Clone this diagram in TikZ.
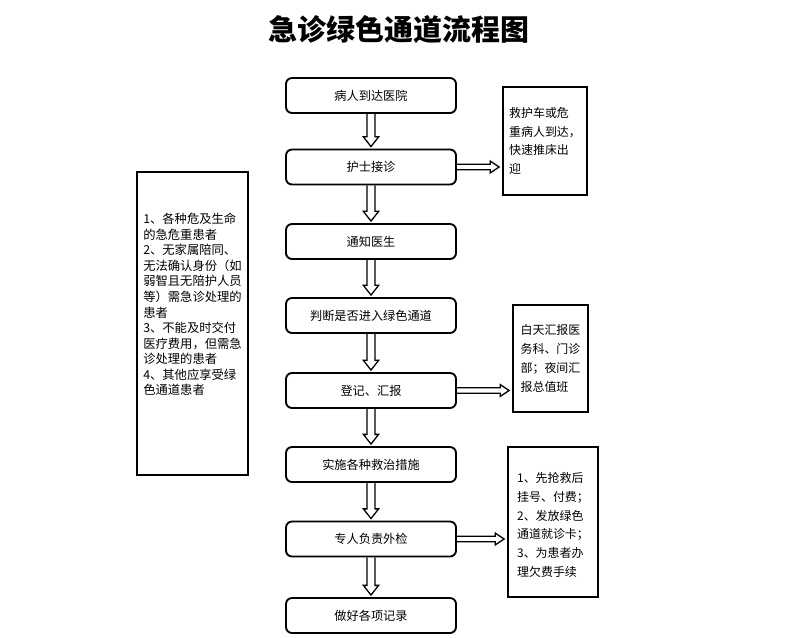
\documentclass[tikz,border=0pt]{standalone}
\usepackage{fontspec}
\setmainfont{Noto Sans CJK SC}
\usetikzlibrary{calc}

\tikzset{
  stepbox/.style={draw,line width=1.6pt,rounded corners=1.8mm,
    minimum width=51mm,minimum height=10.5mm,font=\fontsize{10.4}{12}\selectfont},
  notebox/.style={draw,line width=1.6pt,align=left,
    font=\fontsize{10.2}{16}\selectfont},
  flowarrow/.style={line width=1.1pt,line join=miter},
}

% hollow arrows between boxes
\newcommand{\downflow}[2]{%
  \draw[flowarrow] let \p1=(#1.south), \p2=(#2.north) in
    (\x1-3.4pt,\y1) -- (\x1-3.4pt,\y2+10pt) -- (\x1-6.5pt,\y2+10pt)
    -- (\x1,\y2+1.7pt) -- (\x1+6.5pt,\y2+10pt) -- (\x1+3.4pt,\y2+10pt)
    -- (\x1+3.4pt,\y1);}
\newcommand{\sideflow}[2]{%
  \draw[flowarrow] let \p1=(#1.east), \p2=(#2.west) in
    (\x1,\y1+2.4pt) -- (\x2-10pt,\y1+2.4pt) -- (\x2-10pt,\y1+5pt)
    -- (\x2-2.5pt,\y1) -- (\x2-10pt,\y1-5pt) -- (\x2-10pt,\y1-2.4pt)
    -- (\x1,\y1-2.4pt);}

\begin{document}
\begin{tikzpicture}[x=.3mm,y=-.3mm]
\useasboundingbox (0,0) rectangle (800,637);

\node[font=\fontsize{24.7}{28}\selectfont\bfseries] (title) at (399,30) {急诊绿色通道流程图};

% main steps
\foreach \t/\y [count=\i] in {病人到达医院/95.5,护士接诊/167,通知医生/241.5,
    判断是否进入绿色通道/315.5,登记、汇报/390.5,实施各种救治措施/464.5,
    专人负责外检/539,做好各项记录/615.5} {
  \node[stepbox] (s\i) at (371,\y) {\t};
}
\foreach \i [evaluate=\i as \j using int(\i+1)] in {1,...,7} {
  \downflow{s\i}{s\j}
}

% side notes
\node[notebox,minimum width=33.3mm,minimum height=90.9mm,
  font=\fontsize{10.5}{13.3}\selectfont] (who) at (192.5,323.5)
  {1、各种危及生命\\的急危重患者\\2、无家属陪同、\\无法确认身份（如\\弱智且无陪护人员\\等）需急诊处理的\\患者\\3、不能及时交付\\医疗费用，但需急\\诊处理的患者\\4、其他应享受绿\\色通道患者\\[20pt]\mbox{}};

\node[notebox,minimum width=25.2mm,minimum height=32.4mm] (r1) at (545,141)
  {救护车或危\\重病人到达，\\快速推床出\\迎};
\node[notebox,minimum width=22.5mm,minimum height=32.1mm] (r2) at (550.5,358.5)
  {白天汇报医\\务科、门诊\\部；夜间汇\\报总值班};
\node[notebox,minimum width=27mm,minimum height=45mm] (r3) at (553,522)
  {\mbox{}\\[-2.4pt]1、先抢救后\\挂号、付费；\\2、发放绿色\\通道就诊卡；\\3、为患者办\\理欠费手续};

\sideflow{s2}{r1}
\sideflow{s5}{r2}
\sideflow{s7}{r3}
\end{tikzpicture}
\end{document}
